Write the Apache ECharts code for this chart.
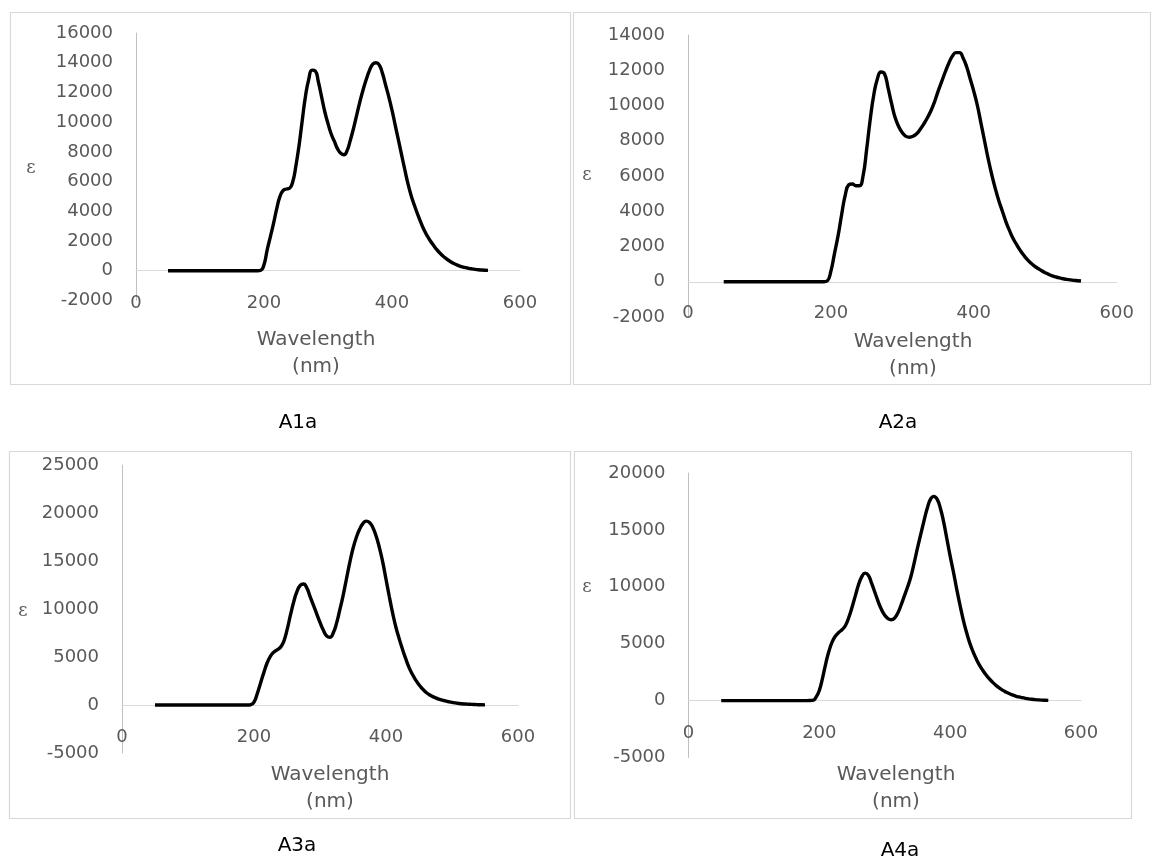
<!DOCTYPE html>
<html>
<head>
<meta charset="utf-8">
<script src="https://cdn.jsdelivr.net/npm/echarts@6.0.0/dist/echarts.min.js"></script>
<style>
	html, body { margin: 0; padding: 0; background: #fff; }
	#chart { width: 1155px; height: 864px; }
</style>
</head>
<body>
<div id="chart"></div>
<script>
// wavelength (nm): coarse on the flat part, 5 nm from 190 on
var wavelengths = [50, 60, 70, 80, 90, 100, 110, 120, 130, 140, 150, 160, 170, 180,
	190, 195, 200, 205, 210, 215, 220, 225, 230, 235, 240, 245, 250, 255, 260, 265, 270, 275, 280, 285,
	290, 295, 300, 305, 310, 315, 320, 325, 330, 335, 340, 345, 350, 355, 360, 365, 370, 375, 380, 385,
	390, 395, 400, 405, 410, 415, 420, 425, 430, 435, 440, 445, 450, 455, 460, 465, 470,
	475, 480, 485, 490, 495, 500, 505, 510, 515, 520, 525, 530, 535, 540, 545, 550];

// ε values
var A1a = [0, 0, 0, 0, 0, 0, 0, 0, 0, 0, 0, 0, 0, 0,
	0, 30, 400, 1400, 2300, 3200, 4200, 5000, 5400, 5500, 5550, 6000, 7100, 8500, 10200, 11800, 12900, 13500, 13450, 12700,
	11700, 10700, 9900, 9200, 8700, 8200, 7900, 7800, 8100, 8800, 9600, 10500, 11400, 12200, 12900, 13500, 13900, 14000, 13850, 13300,
	12500, 11700, 10800, 9800, 8800, 7800, 6800, 5850, 5050, 4400, 3800, 3250, 2750, 2350, 2000, 1700, 1420,
	1180, 970, 800, 650, 520, 420, 330, 260, 200, 155, 120, 90, 65, 45, 30, 20];
var A2a = [0, 0, 0, 0, 0, 0, 0, 0, 0, 0, 0, 0, 0, 0,
	0, 50, 600, 1600, 2600, 3800, 4900, 5500, 5550, 5450, 5450, 6000, 7500, 9200, 10600, 11500, 11900, 11800, 11000, 10100,
	9300, 8800, 8450, 8250, 8200, 8250, 8400, 8650, 8950, 9300, 9700, 10200, 10800, 11350, 11900, 12400, 12800, 13000, 13000, 12700,
	12200, 11500, 10800, 10000, 9000, 8000, 7000, 6100, 5300, 4600, 4000, 3400, 2900, 2450, 2100, 1780, 1500,
	1260, 1060, 890, 750, 620, 510, 415, 335, 270, 215, 170, 135, 105, 80, 60, 40];
var A3a = [0, 0, 0, 0, 0, 0, 0, 0, 0, 0, 0, 0, 0, 0,
	0, 20, 300, 1200, 2300, 3400, 4400, 5100, 5500, 5750, 6000, 6600, 7800, 9300, 10700, 11800, 12450, 12600, 12200, 11300,
	10400, 9500, 8600, 7800, 7200, 7050, 7500, 8500, 9900, 11400, 13100, 14800, 16300, 17450, 18300, 18900, 19150, 19000, 18500, 17600,
	16400, 14900, 13100, 11300, 9600, 8100, 6900, 5800, 4800, 3900, 3200, 2600, 2100, 1700, 1350, 1100, 900,
	750, 620, 510, 420, 340, 270, 215, 170, 130, 100, 80, 60, 45, 30, 20, 10];
var A4a = [0, 0, 0, 0, 0, 0, 0, 0, 0, 0, 0, 0, 0, 0,
	30, 300, 900, 2000, 3300, 4400, 5200, 5700, 6000, 6250, 6600, 7300, 8200, 9200, 10200, 10900, 11200, 11000, 10300, 9500,
	8700, 8000, 7500, 7200, 7100, 7250, 7700, 8400, 9200, 10000, 10900, 12100, 13400, 14600, 15800, 16900, 17700, 17950, 17700, 16900,
	15700, 14200, 12700, 11300, 9800, 8400, 7100, 6000, 5050, 4300, 3650, 3100, 2650, 2250, 1900, 1600, 1340,
	1110, 920, 760, 620, 500, 400, 320, 255, 200, 155, 120, 90, 65, 45, 30, 20];

// y axis ranges [min, max, interval]
var yRanges = [
	[-2000, 16000, 2000],
	[-2000, 14000, 2000],
	[-5000, 25000, 5000],
	[-5000, 20000, 5000]
];
var captions = ["A1a", "A2a", "A3a", "A4a"];
var xTitle = ["Wavelength", "(nm)"];

// layout of the 4 panels
var panels = [
	{ grid: [136, 33, 384, 267.4], lab: -6, box: [10, 12, 560, 372], eps: [31, 168], title: [316, 340], cap: [298, 423] },
	{ grid: [688, 35, 428.7, 282], lab: -13, box: [573, 12, 577, 372], eps: [587, 175], title: [913, 342], cap: [898, 423] },
	{ grid: [122, 465, 396, 288], lab: -25, box: [9, 451, 561, 367], eps: [23, 611], title: [330, 775], cap: [297, 846] },
	{ grid: [688.5, 473, 392.5, 284.5], lab: -33, box: [574, 451, 557, 367], eps: [587, 587], title: [896, 775], cap: [900, 851] }
];
var seriesData = [A1a, A2a, A3a, A4a];

function pairs(xs, ys) {
	return xs.map(function (x, i) {
		return [x, ys[i]];
	});
}

function txt(x, y, text, font, color) {
	return {
		type: "text",
		x: x,
		y: y,
		style: {
			text: text,
			font: font,
			fill: color,
			align: "center",
			verticalAlign: "middle",
			textAlign: "center",
			textVerticalAlign: "middle"
		}
	};
}

var myChart = echarts.init(document.getElementById("chart"), null, { renderer: "canvas" });

var grids = [], xAxes = [], yAxes = [], series = [], graphics = [];
panels.forEach(function (p, i) {
	grids.push({ left: p.grid[0], top: p.grid[1], width: p.grid[2], height: p.grid[3], containLabel: false });
	xAxes.push({
		gridIndex: i,
		type: "value",
		min: 0,
		max: 600,
		interval: 200,
		axisLine: { onZero: true, lineStyle: { color: "#d9d9d9", width: 1 } },
		axisTick: { show: false },
		splitLine: { show: false },
		axisLabel: {
			margin: p.lab,
			color: "#595959",
			fontSize: 18,
			fontFamily: "DejaVu Sans",
			formatter: function (v) { return String(v); }
		}
	});
	yAxes.push({
		gridIndex: i,
		type: "value",
		min: yRanges[i][0],
		max: yRanges[i][1],
		interval: yRanges[i][2],
		axisLine: { show: true, onZero: false, lineStyle: { color: "#bfbfbf", width: 1 } },
		axisTick: { show: false },
		splitLine: { show: false },
		axisLabel: {
			margin: 23,
			color: "#595959",
			fontSize: 18,
			fontFamily: "DejaVu Sans",
			formatter: function (v) { return String(v); }
		}
	});
	series.push({
		type: "line",
		xAxisIndex: i,
		yAxisIndex: i,
		data: pairs(wavelengths, seriesData[i]),
		smooth: 0.5,
		showSymbol: false,
		lineStyle: { color: "#000", width: 3.4 },
		animation: false
	});
	graphics.push({
		type: "rect",
		shape: { x: p.box[0] + 0.5, y: p.box[1] + 0.5, width: p.box[2], height: p.box[3] },
		style: { fill: "none", stroke: "#d9d9d9", lineWidth: 1.2 }
	});
	graphics.push(txt(p.eps[0], p.eps[1], "ε", "18px 'DejaVu Serif'", "#595959"));
	graphics.push(txt(p.title[0], p.title[1], xTitle[0], "20px 'DejaVu Sans'", "#595959"));
	graphics.push(txt(p.title[0], p.title[1] + 26.5, xTitle[1], "20px 'DejaVu Sans'", "#595959"));
	graphics.push(txt(p.cap[0], p.cap[1], captions[i], "20px 'DejaVu Sans'", "#000"));
});

var option = {
	animation: false,
	backgroundColor: "#fff",
	grid: grids,
	xAxis: xAxes,
	yAxis: yAxes,
	series: series,
	graphic: graphics
};
myChart.setOption(option);
</script>
</body>
</html>
